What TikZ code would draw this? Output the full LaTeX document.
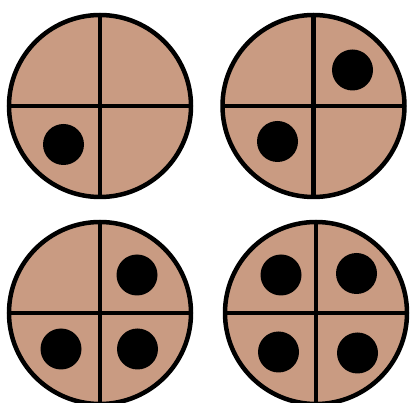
\documentclass[tikz,border=0pt]{standalone}
\definecolor{disc}{RGB}{201,155,130}
\begin{document}
\begin{tikzpicture}[x=1pt,y=-1pt,
  plate/.style={circle,draw=black,fill=disc,line width=4.5pt,minimum size=182pt,inner sep=0pt,outer sep=0pt},
  divider/.style={line width=4.5pt},
  pip/.style={circle,fill=black,minimum size=41pt,inner sep=0pt,outer sep=0pt}]
\useasboundingbox (0,0) rectangle (410,403);
\foreach \n/\x/\y in {A/100/106,B/313.5/106,C/100/313,D/316/313}{
  \node[plate] (\n) at (\x,\y) {};
  \draw[divider] (\n.north) -- (\n.south);
  \draw[divider] (\n.west) -- (\n.east);
}
\node[pip] (a1) at (63.5,144.5) {};
\node[pip] (b1) at (352.5,70) {};
\node[pip] (b2) at (277.5,141.5) {};
\node[pip] (c1) at (137,275) {};
\node[pip] (c2) at (61,349) {};
\node[pip] (c3) at (137.5,349) {};
\node[pip] (d1) at (281,275) {};
\node[pip] (d2) at (356.5,273.5) {};
\node[pip] (d3) at (278.5,352) {};
\node[pip] (d4) at (357.5,353) {};
\end{tikzpicture}
\end{document}
